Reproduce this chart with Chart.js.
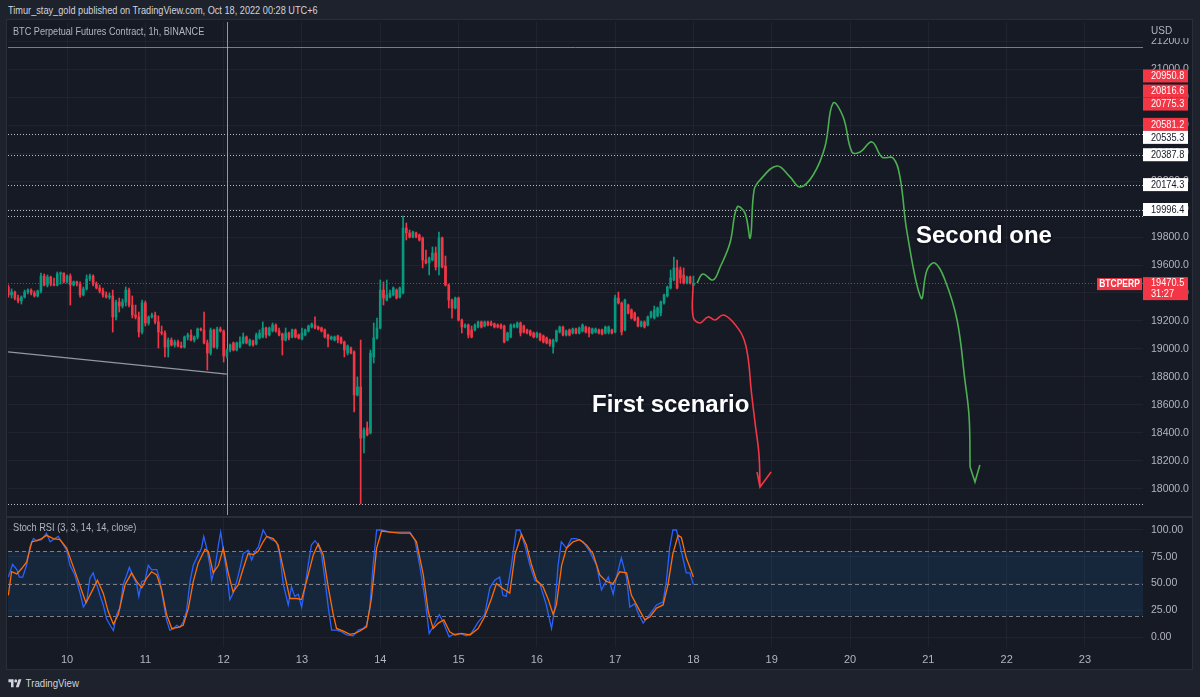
<!DOCTYPE html>
<html>
<head>
<meta charset="utf-8">
<script src="https://cdn.jsdelivr.net/npm/chart.js@4.4.1/dist/chart.umd.min.js"></script>
<style>
  html, body { margin: 0; padding: 0; width: 1200px; height: 697px; overflow: hidden; background: #1e222d; }
  #head { position: absolute; left: 8px; top: 4px; font: 11px "Liberation Sans", Arial, sans-serif; color: #d1d4dc; white-space: nowrap; transform: scaleX(0.835); transform-origin: 0 0; }
  #panel { position: absolute; left: 7px; top: 20px; width: 1185px; height: 649px; background: #161a25; box-shadow: 0 0 0 1px #2a2e39; }
  #mainChart { position: absolute; left: 7px; top: 20px; }
  #stochChart { position: absolute; left: 7px; top: 517px; }
  #sep { position: absolute; left: 7px; top: 516px; width: 1185px; height: 2px; background: #2a2e39; }
  #foot { position: absolute; left: 8px; top: 677px; font: 11px "Liberation Sans", Arial, sans-serif; color: #d1d4dc; white-space: nowrap; transform: scaleX(0.88); transform-origin: 0 0; }
  #foot svg { vertical-align: -1px; margin-right: 4px; }
</style>
</head>
<body>
<div id="head">Timur_stay_gold published on TradingView.com, Oct 18, 2022 00:28 UTC+6</div>
<div id="panel"></div>
<canvas id="mainChart" width="1185" height="497"></canvas>
<canvas id="stochChart" width="1185" height="152"></canvas>
<div id="sep"></div>
<div id="foot"><svg width="16" height="10" viewBox="0 0 36 24"><path fill="#d1d4dc" d="M14 22H7V10H0V3h14v19zM28 22h-8l7.5-19h8L28 22z"/><circle cx="20" cy="7" r="4" fill="#d1d4dc"/></svg>TradingView</div>
<script>
// hourly candles, Oct 9 06:00 -> Oct 18 00:00 (x = hours since Oct 9 00:00)
const firstHour = 6;
const opens = [19443,19386,19407,19364,19343,19371,19407,19421,19400,19379,
  19414,19521,19457,19514,19464,19457,19536,19543,19479,19521,
  19457,19479,19464,19386,19429,19500,19521,19464,19436,19414,
  19386,19371,19379,19229,19336,19307,19336,19421,19314,19243,
  19229,19121,19329,19186,19229,19243,19193,19121,19114,19014,
  19064,19029,19050,19021,19014,19086,19100,19064,19086,19143,
  19136,19043,18971,19136,19014,19143,19129,18950,18993,19043,
  18993,19014,19043,19086,19029,19057,19036,19079,19086,19150,
  19100,19129,19171,19129,19107,19064,19114,19086,19136,19100,
  19071,19100,19129,19157,19171,19157,19150,19136,19100,19071,
  19064,19093,19079,19050,18971,19007,18979,18671,18729,18364,
  18436,18400,18943,19079,19150,19421,19350,19371,19386,19421,
  19371,19400,19864,19829,19800,19829,19814,19793,19636,19614,
  19636,19686,19586,19793,19593,19457,19350,19293,19364,19207,
  19157,19171,19136,19136,19157,19193,19164,19193,19186,19179,
  19171,19171,19164,19064,19086,19157,19157,19186,19164,19136,
  19129,19114,19086,19107,19093,19079,19064,19014,19057,19121,
  19157,19100,19136,19114,19143,19114,19129,19157,19150,19114,
  19121,19136,19136,19114,19121,19136,19121,19364,19329,19136,
  19314,19279,19257,19221,19164,19193,19171,19229,19221,19236,
  19257,19329,19379,19436,19493,19579,19564,19529,19471,19514,
  19457];
const highs = [19457,19429,19414,19386,19379,19421,19429,19429,19414,19421,
  19543,19536,19529,19521,19507,19550,19550,19543,19529,19536,
  19486,19486,19479,19443,19529,19536,19529,19479,19457,19436,
  19407,19400,19421,19350,19364,19357,19443,19436,19379,19314,
  19264,19350,19343,19236,19257,19264,19236,19164,19129,19079,
  19079,19064,19064,19050,19093,19114,19136,19093,19150,19150,
  19264,19064,19150,19143,19157,19157,19136,19000,19036,19050,
  19050,19086,19114,19093,19071,19064,19114,19136,19193,19157,
  19157,19186,19179,19150,19114,19150,19121,19143,19143,19107,
  19150,19143,19171,19186,19229,19164,19157,19143,19107,19093,
  19093,19100,19086,19057,19029,19014,18986,18800,19064,18436,
  18479,18993,19186,19221,19493,19479,19493,19421,19443,19429,
  19443,19950,19900,19850,19843,19836,19821,19800,19707,19657,
  19729,19729,19836,19800,19664,19464,19357,19371,19371,19214,
  19179,19179,19164,19179,19200,19200,19200,19200,19200,19186,
  19179,19179,19171,19121,19179,19179,19193,19193,19171,19143,
  19136,19121,19121,19114,19100,19086,19071,19071,19136,19164,
  19164,19136,19143,19150,19150,19157,19179,19164,19157,19150,
  19150,19143,19143,19164,19164,19143,19386,19407,19336,19357,
  19321,19286,19264,19229,19200,19200,19236,19271,19307,19300,
  19343,19393,19450,19564,19657,19636,19586,19579,19521,19521,
  19521];
const lows = [19371,19364,19350,19329,19321,19364,19393,19386,19371,19371,
  19400,19450,19443,19450,19450,19450,19464,19471,19471,19314,
  19450,19450,19371,19379,19421,19486,19450,19429,19400,19371,
  19364,19357,19121,19207,19264,19293,19307,19300,19221,19214,
  19086,19107,19164,19171,19221,19179,19007,19100,18943,18943,
  19021,19014,19014,19007,19007,19064,19057,19050,19071,19129,
  19036,18850,18957,19007,19000,19121,18907,18936,18979,18986,
  18986,19007,19036,19036,19021,19021,19029,19071,19079,19079,
  19093,19121,19121,19093,18957,19057,19064,19079,19079,19071,
  19064,19093,19121,19150,19143,19136,19121,19079,19014,19064,
  19057,19043,19036,18943,18957,18964,18550,18664,17893,18257,
  18379,18393,18900,19071,19143,19314,19343,19364,19379,19357,
  19364,19393,19779,19793,19793,19793,19771,19579,19607,19529,
  19629,19564,19529,19579,19450,19293,19221,19286,19200,19114,
  19150,19079,19079,19129,19150,19150,19157,19164,19164,19150,
  19150,19143,19043,19057,19079,19150,19150,19093,19114,19107,
  19093,19079,19079,19057,19043,19036,19021,18971,19050,19114,
  19093,19093,19093,19107,19107,19107,19121,19114,19086,19107,
  19114,19107,19100,19107,19107,19107,19114,19321,19100,19129,
  19250,19214,19200,19157,19157,19150,19164,19221,19214,19229,
  19236,19321,19371,19429,19486,19429,19471,19464,19464,19464,
  19450];
const closes = [19386,19407,19364,19343,19371,19407,19421,19400,19379,19414,
  19521,19457,19514,19464,19457,19536,19543,19479,19521,19457,
  19479,19464,19386,19429,19500,19521,19464,19436,19414,19386,
  19371,19379,19229,19336,19307,19336,19421,19314,19243,19229,
  19121,19329,19186,19229,19243,19193,19121,19114,19014,19064,
  19029,19050,19021,19014,19086,19100,19064,19086,19143,19136,
  19043,18971,19136,19014,19143,19129,18950,18993,19029,18993,
  19043,19050,19086,19043,19064,19029,19100,19114,19150,19100,
  19150,19171,19129,19100,19064,19114,19079,19136,19086,19079,
  19114,19136,19164,19179,19150,19143,19129,19086,19071,19086,
  19086,19064,19043,18993,19021,18971,18671,18729,18364,18421,
  18386,18971,19079,19150,19421,19364,19386,19400,19436,19364,
  19436,19864,19829,19800,19836,19800,19779,19636,19614,19650,
  19686,19586,19793,19586,19457,19350,19293,19364,19207,19157,
  19171,19100,19086,19171,19193,19157,19193,19171,19171,19157,
  19157,19150,19050,19114,19171,19171,19186,19114,19121,19114,
  19100,19086,19114,19064,19050,19043,19036,19064,19129,19157,
  19100,19129,19100,19143,19114,19150,19171,19121,19114,19143,
  19143,19114,19107,19157,19157,19114,19364,19329,19121,19350,
  19257,19221,19207,19164,19193,19157,19229,19264,19279,19293,
  19336,19386,19443,19507,19579,19436,19507,19471,19514,19471,
  19470.5];

// Stoch RSI (3,3,14,14): %K blue, %D orange
const kHours = [6,7.3,8.6,9.4,10.4,11.6,12.6,13.7,14.7,16.2,17.7,18.8,19.8,21.3,22.3,23.9,24.9,26.4,28,29,
  30,31,32,33,34.1,35.1,36.1,37.2,38.2,39.2,40.2,41.2,42.3,43.1,44.3,45.3,46,46.9,47.9,48.9,
  49.9,51.5,52.5,53.5,54.5,55.5,56.6,57.6,58.6,59.6,60.6,61.7,62.7,64.2,65.2,65.9,66.8,67.8,68.3,69.3,
  70.4,71.1,71.9,72.9,73.9,74.9,76,77,78,79.5,80.6,81.6,82.6,84.1,85.2,86.7,88.2,89.2,90.3,91.8,
  92.8,93.8,94.9,95.9,96.9,97.9,98.9,100,101,102,103,104.1,105.1,106.6,108.1,109.7,111.7,113.3,114.8,115.8,
  116.8,117.8,118.9,120.4,123,126,129.1,130.6,132.1,133.7,135,136.2,138.1,139.3,141.1,142.4,144.4,146.4,147.9,150,
  152,153.6,155.1,156.6,157.6,158.6,160.2,161.7,162.8,164.3,165.9,167.4,168.9,170.9,172.5,173.5,174.5,175.5,177.1,178.6,
  180.1,182.2,184.2,186.3,187.8,189.9,191.4,192.4,193.9,195.5,196.5,198,199.1,200.6,202.1,204.7,206.7,207.7,208.7,209.7,
  210.8,212.3,213.8,214.9,216];
const kValues = [56,68,63,56,56,67,84,92,90,91,97,89,91,94,89,81,67,58,41,28,
  33,55,60,50,39,30,17,11,6,21,27,49,58,65,56,50,38,52,53,67,
  63,63,53,33,16,6.5,7.5,11,9,14,24,52,67,77,83,94,83,67,53,64,
  86,98,81,61,35,41,52,64,78,81,72,80,84,100,94,91,89,77,49,30,
  47,38,40,28,46,67,86,90,86,77,55,27,6.5,6.5,5,2,1.2,6.5,8,11,
  27,67,100,100,98,98,98,91,67,36,3.4,9.6,21,14,0.3,2.5,3.4,1.2,3.4,14,
  21,46,53,56,39,38,67,100,100,86,67,53,50,30,8,27,67,89,83,92,
  92,89,80,67,44,56,40,56,74,55,28,31,22,13,19,30,33,52,83,100,
  100,80,60,60,49];
const dHours = [6,7,8.6,10.1,11.6,13.2,14.7,16.2,17.7,19.8,21.8,23.9,25.4,27.5,29.8,31.5,33.3,35.1,36.6,38.2,
  39.7,41.8,43.8,45.3,46.9,48.4,49.9,51.5,53,54.5,56.1,58.1,59.6,61.2,62.7,64.2,66.3,67.3,68.8,70.4,
  71.9,73.4,74.9,76.5,78,79.5,81.1,82.6,84.1,85.2,87.2,88.7,90.3,92.3,94.4,95.9,97.4,99.5,101,102.5,
  104.1,105.6,106.6,108.7,110.7,112.2,113.8,115.8,117.3,118.9,120.4,123,126,129.1,131.1,133.2,134.7,136.2,137.8,139.5,
  141.3,142.9,144.9,147.5,150,152,154.1,155.6,157.2,159.7,161.3,163.3,164.8,166.4,167.9,169.9,171.5,173,174,175.6,
  177.1,179.1,181.1,183.2,185.2,187.3,189.3,191.4,193.4,195.5,197,199.1,201.1,202.7,204.7,206.7,208.2,209.7,211.3,212.3,
  213.8,216];
const dValues = [39,61,59,64,70,89,90,92,95,92,91,83,70,52,32,42,53,41,24,12,
  21,49,60,52,46,55,61,58,44,21,8,9,11,27,52,69,82,80,60,67,
  83,60,42,49,64,78,77,80,89,94,92,86,64,36,36,35,52,77,87,77,
  46,21,8,5.6,2.5,3.4,5.6,9.6,36,83,99,98,97,97,89,58,24,8,13,16,
  5,1.9,3.4,1.9,8,19,36,50,46,41,77,96,86,67,53,47,35,21,30,67,
  83,89,91,86,78,58,52,50,61,60,39,27,16,19,27,30,49,78,95,93,
  74,56];

// hand drawn scenarios (hour, price)
const redHours = [215.9,215.9,218.0,220.5,222.6,225.1,228.1,231.2,232.7,233.7,234.9,236.1,236.4];
const redPrices = [19471,19229,19186,19229,19207,19243,19193,19086,18943,18707,18471,18243,18014];
const redArrowHours = [235.5,236.4,239.8];
const redArrowPrices = [18121,18014,18121];
const greenHours = [217.1,218.9,222.0,224.2,227.2,229.4,231.8,233.4,234.6,236.4,241.6,245.6,248.7,252.7,256.3,258.8,
  261.9,264.6,267.1,270.7,273.8,277.2,279.3,281.5,285.8,287.6,290.0,293.1,296.8,299.2,300.5,300.8];
const greenPrices = [19471,19536,19493,19586,19757,20014,19971,19793,20136,20207,20307,20229,20157,20243,20443,20757,
  20657,20407,20407,20479,20371,20364,20229,19829,19364,19564,19614,19493,19207,18779,18514,18157];
const greenArrowHours = [300.8,302.3,303.8];
const greenArrowPrices = [18157,18050,18171];
const trendHours = [5.9,73];
const trendPrices = [18979,18821];
const markerHour = 73;

// levels and labels
const greenLevel = 21157;
const alertPrices = [20950.8,20816.6,20775.3,20581.2];
const levelPrices = [20535.3,20387.8,20174.3,19996.4];
const plainLevels = [19950,17893];
const lastPrice = 19470.5;
const symbol = 'BTCPERP';
const countdown = '31:27';
const notes = [
  { text: 'First scenario', hour: 184.9, price: 18550 },
  { text: 'Second one', hour: 284.2, price: 19759 }
];

const priceTicks = [18000,18200,18400,18600,18800,19000,19200,19400,19600,19800,20000,20200,20400,20600,20800,21000,21200];
const stochTicks = [0,25,50,75,100];
const stochBands = [80,50,20];
const dayTickHours = [24,48,72,96,120,144,168,192,216,240,264,288,312,336];
const dayLabels = ['10','11','12','13','14','15','16','17','18','19','20','21','22','23'];

const xMin = 5.9, xMax = 353.8;
const priceMin = 17814, priceMax = 21336;

const FONT = '"Liberation Sans", Arial, sans-serif';
const UP = '#089981', DOWN = '#f23645', GRID = 'rgba(255,255,255,0.045)', TEXT = '#b2b5be';
Chart.defaults.font.family = FONT;
Chart.defaults.font.size = 11;
Chart.defaults.color = TEXT;

const zip = (xs, ys) => xs.map((x, i) => ({ x: x, y: ys[i] }));
const candleColors = closes.map((c, i) => c >= opens[i] ? UP : DOWN);
const bodies = closes.map((c, i) => ({ x: firstHour + i, y: [opens[i], c] }));
const wicks = closes.map((c, i) => ({ x: firstHour + i, y: [lows[i], highs[i]] }));

// no extra room for the end tick labels, the axes fill the pane like the platform
const noPad = s => { s.paddingTop = 0; s.paddingBottom = 0; s.paddingLeft = 0; s.paddingRight = 0; };

function hLine(ctx, area, y, color, dash) {
  ctx.save();
  ctx.strokeStyle = color;
  ctx.lineWidth = 1;
  ctx.setLineDash(dash);
  ctx.beginPath();
  ctx.moveTo(area.left, Math.round(y) + 0.5);
  ctx.lineTo(area.right, Math.round(y) + 0.5);
  ctx.stroke();
  ctx.restore();
}

// narrow text, the platform font is more condensed than what we have
function narrowText(ctx, text, x, y, sx, align) {
  ctx.save();
  ctx.translate(x, y);
  ctx.scale(sx, 1);
  ctx.textAlign = align || 'left';
  ctx.fillText(text, 0, 0);
  ctx.restore();
}

function box(ctx, x, top, w, h, bg, fg, lines, font) {
  ctx.fillStyle = bg;
  ctx.fillRect(x, top, w, h);
  ctx.fillStyle = fg;
  ctx.font = font || ('10px ' + FONT);
  ctx.textBaseline = 'middle';
  lines.forEach(l => narrowText(ctx, l.text, l.x, l.y, l.sx || 1, l.align));
}

// keep axis labels from overlapping
function stackLabels(items, h) {
  items.sort((a, b) => a.y - b.y);
  let groups = items.map(it => ({ items: [it] }));
  const centre = g => g.items.reduce((s, it) => s + it.y, 0) / g.items.length;
  let merged = true;
  while (merged) {
    merged = false;
    for (let i = 0; i < groups.length - 1; i++) {
      const a = groups[i], b = groups[i + 1];
      if (centre(a) + a.items.length * h / 2 > centre(b) - b.items.length * h / 2) {
        groups.splice(i, 2, { items: a.items.concat(b.items) });
        merged = true;
        break;
      }
    }
  }
  groups.forEach(g => {
    const top = centre(g) - g.items.length * h / 2;
    g.items.forEach((it, k) => { it.top = top + h * k; });
  });
  return items;
}

const mainDecor = {
  id: 'mainDecor',
  beforeDatasetsDraw(chart) {
    const { ctx, chartArea: a, scales: { x, y } } = chart;
    ctx.save();
    ctx.beginPath();
    ctx.rect(a.left, a.top, a.right - a.left, a.bottom - a.top);
    ctx.clip();
    hLine(ctx, a, y.getPixelForValue(greenLevel), 'rgba(76,175,80,0.9)', []);
    levelPrices.concat(plainLevels).forEach(p => hLine(ctx, a, y.getPixelForValue(p), 'rgba(215,217,225,0.85)', [1, 2]));
    hLine(ctx, a, y.getPixelForValue(lastPrice), 'rgba(242,54,69,0.75)', [1, 2]);
    const vx = Math.round(x.getPixelForValue(markerHour)) + 0.5;
    ctx.strokeStyle = 'rgba(190,193,200,0.75)';
    ctx.lineWidth = 1;
    ctx.beginPath();
    ctx.moveTo(vx, a.top);
    ctx.lineTo(vx, a.bottom);
    ctx.stroke();
    ctx.restore();
  },
  afterDraw(chart) {
    const { ctx, chartArea: a, scales: { x, y } } = chart;
    const W = chart.width;
    ctx.save();
    // pane title
    ctx.font = '11px ' + FONT;
    ctx.fillStyle = TEXT;
    ctx.textBaseline = 'middle';
    narrowText(ctx, 'BTC Perpetual Futures Contract, 1h, BINANCE', 6, 12, 0.83);
    // notes on the chart
    notes.forEach(n => {
      ctx.font = 'bold 24px ' + FONT;
      ctx.textBaseline = 'alphabetic';
      ctx.textAlign = 'left';
      ctx.lineJoin = 'round';
      ctx.lineWidth = 4;
      ctx.strokeStyle = '#131722';
      const nx = x.getPixelForValue(n.hour), ny = y.getPixelForValue(n.price);
      ctx.strokeText(n.text, nx, ny);
      ctx.fillStyle = '#ffffff';
      ctx.fillText(n.text, nx, ny);
    });
    // currency header over the top of the price axis
    ctx.fillStyle = '#161a25';
    ctx.fillRect(a.right + 1, 0, W - a.right - 1, 18);
    ctx.font = '10px ' + FONT;
    ctx.fillStyle = TEXT;
    ctx.textBaseline = 'middle';
    narrowText(ctx, 'USD', a.right + 8, 11, 1);
    // axis labels
    const h = 13, w = 45;
    const items = alertPrices.map(p => ({ p: p, y: y.getPixelForValue(p), alert: true }))
      .concat(levelPrices.map(p => ({ p: p, y: y.getPixelForValue(p), alert: false })));
    stackLabels(items, h).forEach(it => {
      box(ctx, a.right, it.top, w, h, it.alert ? '#f23645' : '#ffffff', it.alert ? '#ffffff' : '#131722',
        [{ text: it.p.toFixed(1), x: a.right + 8, y: it.top + h / 2 + 0.5, sx: 0.92 }]);
    });
    const ly = y.getPixelForValue(lastPrice);
    box(ctx, a.right, ly - 6, w, 23, '#f23645', '#ffffff',
      [{ text: lastPrice.toFixed(1), x: a.right + 8, y: ly, sx: 0.92 },
       { text: countdown, x: a.right + 8, y: ly + 11, sx: 0.92 }]);
    box(ctx, a.right - 46, ly - 5, 45, 12, '#f23645', '#ffffff',
      [{ text: symbol, x: a.right - 23.5, y: ly + 1, sx: 0.85, align: 'center' }], 'bold 10px ' + FONT);
    ctx.restore();
  }
};

new Chart(document.getElementById('mainChart'), {
  type: 'bar',
  data: {
    datasets: [
      { type: 'line', data: zip(redArrowHours, redArrowPrices), borderColor: '#f23645', borderWidth: 1.6, pointRadius: 0, tension: 0, order: 0 },
      { type: 'line', data: zip(redHours, redPrices), borderColor: '#f23645', borderWidth: 1.6, pointRadius: 0, tension: 0.4, order: 0 },
      { type: 'line', data: zip(greenArrowHours, greenArrowPrices), borderColor: '#4caf50', borderWidth: 1.6, pointRadius: 0, tension: 0, order: 0 },
      { type: 'line', data: zip(greenHours, greenPrices), borderColor: '#4caf50', borderWidth: 1.6, pointRadius: 0, tension: 0.4, order: 0 },
      { type: 'bar', data: bodies, backgroundColor: candleColors, barThickness: 2, minBarLength: 1, grouped: false, order: 1 },
      { type: 'bar', data: wicks, backgroundColor: candleColors, barThickness: 1, grouped: false, order: 2 },
      { type: 'line', data: zip(trendHours, trendPrices), borderColor: 'rgba(190,193,200,0.75)', borderWidth: 1.2, pointRadius: 0, order: 3 }
    ]
  },
  options: {
    responsive: false,
    animation: false,
    devicePixelRatio: 1,
    layout: { padding: { left: 1, right: 0, top: 2, bottom: 2 } },
    plugins: { legend: { display: false }, tooltip: { enabled: false } },
    scales: {
      x: {
        type: 'linear', min: xMin, max: xMax, offset: false,
        grid: { color: GRID, offset: false, drawTicks: false },
        border: { display: false },
        ticks: { display: false },
        afterBuildTicks: s => { s.ticks = dayTickHours.map(v => ({ value: v })); },
        afterFit: s => { s.height = 0; noPad(s); }
      },
      y: {
        position: 'right', min: priceMin, max: priceMax,
        grid: { color: GRID, drawTicks: false },
        border: { display: false },
        ticks: { padding: 8, color: TEXT, font: { size: 10.5 }, callback: v => v.toFixed(1) },
        afterBuildTicks: s => { s.ticks = priceTicks.map(v => ({ value: v })); },
        afterFit: s => { s.width = 49; noPad(s); }
      }
    }
  },
  plugins: [mainDecor]
});

const stochDecor = {
  id: 'stochDecor',
  beforeDatasetsDraw(chart) {
    const { ctx, chartArea: a, scales: { y } } = chart;
    ctx.save();
    const top = y.getPixelForValue(stochBands[0]), bottom = y.getPixelForValue(stochBands[2]);
    ctx.fillStyle = 'rgba(33,150,243,0.11)';
    ctx.fillRect(a.left, top, a.right - a.left, bottom - top);
    stochBands.forEach(v => hLine(ctx, a, y.getPixelForValue(v), 'rgba(135,138,148,0.9)', [4, 3]));
    ctx.restore();
  },
  afterDraw(chart) {
    const { ctx } = chart;
    ctx.save();
    ctx.font = '11px ' + FONT;
    ctx.fillStyle = TEXT;
    ctx.textBaseline = 'middle';
    narrowText(ctx, 'Stoch RSI (3, 3, 14, 14, close)', 6, 11, 0.84);
    ctx.restore();
  }
};

new Chart(document.getElementById('stochChart'), {
  type: 'line',
  data: {
    datasets: [
      { data: zip(dHours, dValues), borderColor: '#ff6d00', borderWidth: 1.3, pointRadius: 0, tension: 0 },
      { data: zip(kHours, kValues), borderColor: '#2962ff', borderWidth: 1.3, pointRadius: 0, tension: 0 }
    ]
  },
  options: {
    responsive: false,
    animation: false,
    devicePixelRatio: 1,
    layout: { padding: { left: 1, right: 0, top: 1, bottom: 0 } },
    plugins: { legend: { display: false }, tooltip: { enabled: false } },
    scales: {
      x: {
        type: 'linear', min: xMin, max: xMax,
        grid: { color: GRID, drawTicks: false },
        border: { display: false },
        ticks: { padding: 6, color: TEXT, maxRotation: 0, autoSkip: false, callback: (v, i) => dayLabels[i] },
        afterBuildTicks: s => { s.ticks = dayTickHours.map(v => ({ value: v })); },
        afterFit: s => { s.height = 22; noPad(s); }
      },
      y: {
        position: 'right', min: -9.3, max: 111.2,
        grid: { color: GRID, drawTicks: false },
        border: { display: false },
        ticks: { padding: 8, color: TEXT, font: { size: 10.5 }, callback: v => v.toFixed(2) },
        afterBuildTicks: s => { s.ticks = stochTicks.map(v => ({ value: v })); },
        afterFit: s => { s.width = 49; noPad(s); }
      }
    }
  },
  plugins: [stochDecor]
});
</script>
</body>
</html>
